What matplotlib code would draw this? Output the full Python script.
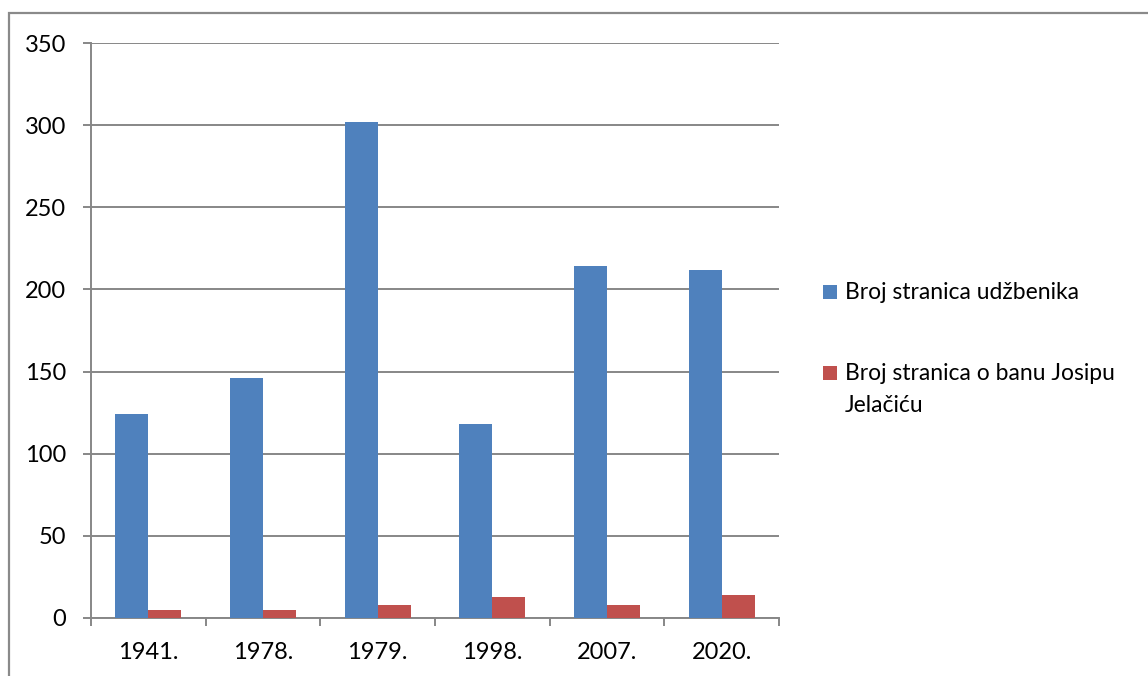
import matplotlib
matplotlib.use("Agg")
import matplotlib.pyplot as plt
from matplotlib.patches import Rectangle
import numpy as np

categories = ["1941.", "1978.", "1979.", "1998.", "2007.", "2020."]
series_names = ["Broj stranica udžbenika", "Broj stranica o banu Josipu\nJelačiću"]
pages_total = [124, 146, 302, 118, 214, 212]
pages_jelacic = [5, 5, 8, 13, 8, 14]
y_ticks = [0, 50, 100, 150, 200, 250, 300, 350]

plt.rcParams['font.family'] = ['Lato', 'DejaVu Sans']

W, H = 1148, 676
fig = plt.figure(figsize=(W / 100, H / 100), dpi=100)

def fx(px):
    return px / W

def fy(py):
    return 1 - py / H

ax = fig.add_axes([fx(91), fy(618), fx(779) - fx(91), fy(43) - fy(618)])

colors = ["#4F81BD", "#C0504D"]
gray = "#878787"
x = np.arange(len(categories))
bw = 0.2875
ax.bar(x - bw / 2, pages_total, bw, color=colors[0], zorder=3)
ax.bar(x + bw / 2, pages_jelacic, bw, color=colors[1], zorder=3)

ax.set_xlim(-0.5, len(categories) - 0.5)
ax.set_ylim(0, 350)
ax.set_yticks(y_ticks)
ax.set_yticklabels([str(v) for v in y_ticks], fontsize=17)
ax.yaxis.grid(True, color=gray, linewidth=1.4, zorder=0)
ax.set_axisbelow(True)

ax.set_xticks(np.arange(len(categories) + 1) - 0.5, minor=False)
ax.set_xticklabels([""] * (len(categories) + 1))
ax.set_xticks(x, minor=True)
ax.set_xticklabels(categories, minor=True, fontsize=17)
ax.tick_params(axis='x', which='minor', length=0, pad=17)
ax.tick_params(axis='x', which='major', length=6, width=1.4, color=gray, direction='out')
ax.tick_params(axis='y', length=5.8, width=1.4, color=gray, direction='out', pad=12)

for s in ["top", "right"]:
    ax.spines[s].set_visible(False)
for s in ["left", "bottom"]:
    ax.spines[s].set_color(gray)
    ax.spines[s].set_linewidth(1.4)

# legend drawn manually
leg_rows = [292, 373]
line_gap = 32
for name, col, yy in zip(series_names, colors, leg_rows):
    fig.add_artist(Rectangle((fx(823), fy(yy + 7)), fx(14), fy(0) - fy(14),
                             transform=fig.transFigure, color=col, lw=0))
    for i, line in enumerate(name.split("\n")):
        fig.text(fx(845), fy(yy + 7 + i * line_gap), line, fontsize=16.5,
                 va='baseline', ha='left')

# outer chart border
fig.add_artist(Rectangle((fx(8.5), fy(700)), fx(1200), fy(12.5) - fy(700),
                         transform=fig.transFigure, fill=False,
                         edgecolor="#8a8a8a", linewidth=1.6))

fig.savefig("out.png", dpi=100)
